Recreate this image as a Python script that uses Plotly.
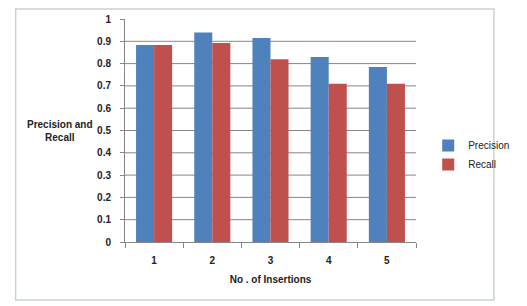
import plotly.graph_objects as go

categories = ["1", "2", "3", "4", "5"]
precision = [0.883, 0.94, 0.915, 0.83, 0.785]
recall = [0.883, 0.892, 0.82, 0.71, 0.71]
y_ticks = [0, 0.1, 0.2, 0.3, 0.4, 0.5, 0.6, 0.7, 0.8, 0.9, 1]
y_tick_labels = ["0", "0.1", "0.2", "0.3", "0.4", "0.5", "0.6", "0.7", "0.8", "0.9", "1"]

W, H = 527, 306
ml, mr, mt, mb = 125, 92, 19, 64
pw, ph = W - ml - mr, H - mt - mb

font = "Liberation Sans"

fig = go.Figure()
fig.add_trace(go.Bar(x=categories, y=precision, name="Precision",
                     marker=dict(color="#4F81BD", line=dict(width=0))))
fig.add_trace(go.Bar(x=categories, y=recall, name="Recall",
                     marker=dict(color="#C0504D", line=dict(width=0))))

# gridlines (excluding the top value)
for t in y_ticks[1:-1]:
    fig.add_shape(type="line", xref="paper", yref="y", x0=0, x1=1, y0=t, y1=t,
                  line=dict(color="#868686", width=1), layer="below")

# outer chart border
def px_x(v):
    return (v - ml) / pw
def px_y(v):
    return 1 - (v - mt) / ph
fig.add_shape(type="rect", xref="paper", yref="paper",
              x0=px_x(8.5), x1=px_x(518), y0=px_y(9), y1=px_y(300),
              line=dict(color="#C9D3CF", width=1.5), layer="below")

fig.update_layout(
    width=W, height=H,
    margin=dict(l=ml, r=mr, t=mt, b=mb),
    paper_bgcolor="white", plot_bgcolor="white",
    barmode="group", bargap=0.38, bargroupgap=0,
    font=dict(family=font, size=10, color="#222"),
    showlegend=True,
    legend=dict(x=px_x(448), y=px_y(131), xanchor="left", yanchor="top",
                font=dict(family=font, size=10, color="#222"),
                itemwidth=30, tracegroupgap=4, bgcolor="rgba(0,0,0,0)"),
    xaxis=dict(type="category", showline=True, linecolor="#868686", linewidth=1,
               ticks="outside", tickson="boundaries", ticklen=5, tickcolor="#868686",
               ticklabelstandoff=9,
               tickfont=dict(family=font, size=10, color="#222", weight="bold"),
               showgrid=False, zeroline=False,
               title=dict(text="<b>No . of Insertions</b>", standoff=10,
                          font=dict(family=font, size=10, color="#222"))),
    yaxis=dict(range=[0, 1], tickvals=y_ticks, ticktext=y_tick_labels,
               showline=True, linecolor="#868686", linewidth=1,
               ticks="outside", ticklen=4, tickcolor="#868686",
               ticklabelstandoff=7,
               tickfont=dict(family=font, size=10, color="#222", weight="bold"),
               showgrid=False, zeroline=False),
)

fig.add_annotation(text="<b>Precision and<br>Recall</b>", xref="paper", yref="paper",
                   x=px_x(56), y=px_y(131), xanchor="center", yanchor="middle",
                   showarrow=False, align="center",
                   font=dict(family=font, size=10, color="#222"))

fig.write_html("out.html")
